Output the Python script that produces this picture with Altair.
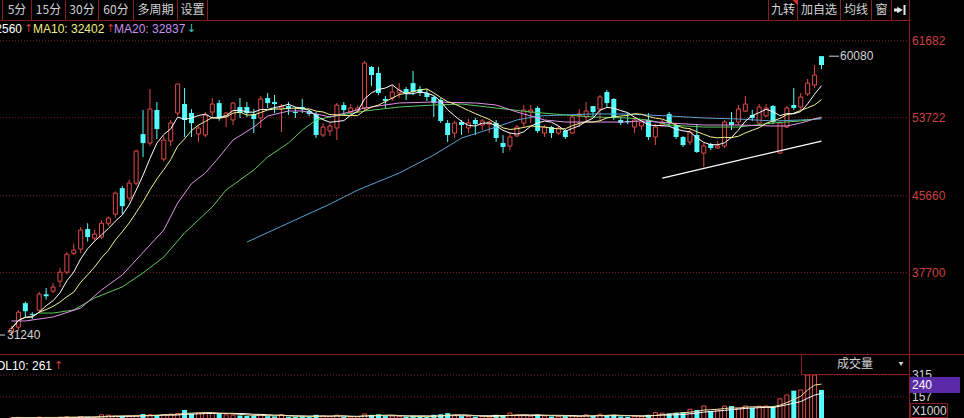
import altair as alt
import pandas as pd

# ---------------- daily candles (oldest first) ----------------
opens = [31500, 32050, 34530, 33400, 33800, 35450, 35780, 36800, 37740, 39700,
         40120, 42200, 41260, 41370, 42800, 43740, 46430, 45400, 46950, 52020,
         51090, 54510, 49440, 51300, 54200, 55130, 54200, 52040, 51930, 54300,
         55230, 53800, 53480, 54820, 54820, 54100, 53690, 55750, 55340, 54720,
         54920, 54300, 54820, 54400, 54100, 51930, 52340, 52650, 55030, 54300,
         54400, 54720, 58960, 58340, 55650, 55750, 56270, 56680, 57300, 56680,
         56270, 55860, 55550, 53170, 52130, 53270, 52650, 53480, 52960, 53060,
         53170, 51100, 50790, 51830, 53170, 54300, 54720, 52130, 52750, 52130,
         52340, 52130, 53900, 53800, 54920, 54610, 56370, 55650, 53480, 53380,
         52750, 52860, 53480, 51720, 52960, 54100, 52960, 51720, 51200, 51930,
         50060, 51000, 50580, 50790, 53270, 53270, 54400, 54000, 53170, 53900,
         54920, 50060, 52750, 55030, 54820, 56170, 57100, 60080]
highs = [32200, 33810, 34700, 33600, 35700, 36100, 36600, 38200, 39800, 40700,
         42400, 42800, 42100, 43100, 43500, 46100, 46640, 47300, 50400, 54510,
         56680, 55340, 51800, 53470, 57200, 56790, 54600, 52960, 54300, 55750,
         55550, 54300, 55340, 55750, 55340, 54610, 55960, 56270, 56060, 55130,
         55340, 54820, 55650, 54500, 54300, 53170, 53170, 55240, 55340, 55130,
         55000, 59580, 59060, 58960, 55960, 57100, 57300, 56890, 58550, 56990,
         56680, 55960, 55750, 53480, 53380, 53480, 53580, 53690, 53580, 53380,
         53480, 51920, 52130, 52960, 55030, 55030, 54920, 52960, 52860, 52860,
         52540, 54000, 54610, 55340, 54920, 56060, 56580, 55750, 53790, 54200,
         53690, 53270, 54200, 53060, 53480, 54300, 53060, 51820, 52650, 53060,
         51100, 51100, 51300, 53480, 54300, 55030, 55960, 54510, 55130, 55130,
         55030, 53380, 54920, 56790, 56270, 57720, 59170, 60080]
lows = [31240, 31740, 33100, 32900, 33600, 34900, 35570, 36200, 37500, 39500,
        39700, 40900, 41000, 41200, 42500, 43400, 43740, 45100, 46700, 49640,
        50780, 51510, 49200, 50780, 53900, 51720, 51720, 51200, 51700, 53790,
        53400, 52750, 52960, 53700, 53790, 52130, 52650, 54720, 54200, 52230,
        54000, 53690, 54200, 53900, 51620, 51720, 51820, 51400, 54000, 54000,
        54200, 54400, 56990, 56060, 54720, 55440, 55750, 55550, 56060, 55960,
        55440, 53790, 53170, 51200, 51620, 51930, 52130, 51930, 52440, 52130,
        51200, 50060, 50370, 51720, 52650, 53170, 52130, 51720, 51620, 51930,
        51510, 52030, 52750, 53170, 53790, 53480, 54820, 53480, 52960, 53060,
        52130, 52440, 51410, 50890, 52750, 52860, 51510, 50680, 50890, 50060,
        48610, 50370, 50480, 50580, 52440, 52960, 54300, 53380, 52960, 53790,
        53060, 49960, 52650, 54510, 54510, 55960, 56790, 58750]
closes = [31900, 33600, 33700, 33300, 35470, 35250, 36200, 37740, 39600, 40020,
          42090, 41370, 41680, 42800, 43330, 45910, 44570, 46950, 50270, 51090,
          54610, 52540, 51400, 53170, 57200, 53480, 53160, 52650, 53990, 55130,
          53700, 54200, 55230, 54200, 54200, 53580, 55650, 55230, 55130, 54920,
          54610, 54200, 54600, 54100, 51930, 52750, 52860, 55030, 54510, 54720,
          54720, 59370, 58130, 56270, 55440, 56370, 56580, 56270, 56370, 56270,
          55860, 55230, 53380, 51930, 53170, 52960, 53170, 53060, 53380, 53270,
          51620, 50690, 51720, 52750, 54510, 54510, 52340, 52750, 52130, 52650,
          51720, 53790, 54100, 54410, 54300, 55860, 55230, 53690, 53170, 53270,
          53480, 53270, 51720, 52750, 53270, 53170, 51720, 50890, 52230, 50170,
          50790, 50580, 50790, 53270, 52960, 54610, 55130, 53690, 54820, 54720,
          53270, 53170, 54720, 54720, 55860, 57300, 58130, 59170]
# traded volume, x1000
volumes = [8, 12, 10, 9, 14, 11, 10, 13, 16, 12,
           18, 14, 12, 30, 28, 22, 20, 18, 25, 36,
           30, 28, 32, 35, 40, 65, 38, 42, 45, 40,
           42, 30, 28, 25, 22, 24, 30, 20, 18, 32,
           16, 15, 18, 14, 30, 22, 18, 28, 15, 14,
           16, 36, 30, 34, 20, 22, 18, 16, 20, 15,
           14, 30, 34, 42, 28, 20, 18, 16, 18, 14,
           30, 25, 43, 30, 28, 20, 32, 22, 18, 16,
           20, 24, 18, 30, 20, 34, 28, 30, 18, 16,
           18, 16, 30, 47, 42, 40, 45, 48, 70, 65,
           93, 57, 65, 93, 93, 79, 93, 79, 92, 93,
           86, 144, 172, 203, 208, 315, 315, 208]

# longer moving averages (session index, value)
ma20_idx = [0, 2, 6, 10, 13, 16, 18, 22, 24, 26, 28, 30, 32, 35, 37, 40, 42, 44, 46,
            51, 56, 61, 67, 70, 73, 77, 80, 84, 89, 91, 95, 100, 105, 110, 112, 114, 117]
ma20_val = [32690, 32690, 33100, 34030, 35900, 37450, 39000, 42100, 44890, 46900, 48000,
            49650, 51410, 52750, 53890, 54410, 54410, 54100, 53790, 54720, 55240, 55340,
            55240, 55030, 54310, 53480, 53270, 53270, 53270, 53400, 53170, 52960, 52960,
            52860, 52860, 53170, 53790]
ma30_idx = [4, 6, 9, 12, 16, 19, 22, 25, 29, 31, 35, 37, 40, 42, 44, 46, 51, 56, 61, 65,
            70, 75, 80, 84, 89, 92, 95, 100, 105, 110, 114, 117]
ma30_val = [33510, 33510, 33830, 35070, 36210, 37660, 39310, 41800, 44490, 46240, 48310,
            49650, 51100, 52440, 53480, 53790, 54410, 54820, 55030, 55130, 54720, 54310,
            54000, 53790, 53690, 53480, 52960, 52750, 52750, 53170, 53380, 53690]
ma60_idx = [34, 46, 50, 56, 61, 65, 70, 73, 76, 80, 84, 89, 95, 100, 105, 110, 114, 117]
ma60_val = [40850, 44780, 46230, 47990, 49850, 51610, 52750, 53480, 53890, 54000, 54100,
            54100, 53890, 53690, 53580, 53380, 53480, 53590]
# hand-drawn support line
trend_idx = [94, 117]
trend_val = [47470, 51300]

price_ticks = [61682, 53722, 45660, 37700]
vol_ticks = [315, 240, 157]
vol_grid = [315, 157]
period_tabs = ["5分", "15分", "30分", "60分", "多周期", "设置"]
tool_tabs = ["九转", "加自选", "均线", "窗"]

# ---------------- styling ----------------
LATIN = "Liberation Sans"
CJK = "Noto Sans CJK SC"
RED = "#e24a4a"
CYAN = "#54fcfc"
FRAME = "#8a1d1d"
GRID = "#7a2222"
AXIS_TXT = "#cc4040"
GREY_TXT = "#d4d4d4"
PANEL_RIGHT = 909.5

n = len(closes)
df = pd.DataFrame({"i": range(n), "open": opens, "high": highs, "low": lows,
                   "close": closes, "volume": volumes})
df["top"] = df[["open", "close"]].max(axis=1)
df["bot"] = df[["open", "close"]].min(axis=1)
rise = df[df["close"] >= df["open"]]
fall = df[df["close"] < df["open"]]

X_SCALE = alt.Scale(domain=[0, n - 1], range=[6.5, 826.5], nice=False, zero=False)
P_SCALE = alt.Scale(domain=[31240, 61682], range=[335, 40.7], nice=False, zero=False)
V_SCALE = alt.Scale(domain=[0, 315], range=[419, 375], nice=False)
X = alt.X("i:Q", scale=X_SCALE, axis=None)


def py(f):
    return alt.Y(f"{f}:Q", scale=P_SCALE, axis=None)


def vy(f):
    return alt.Y(f"{f}:Q", scale=V_SCALE, axis=None)


ONE = pd.DataFrame({"k": [0]})


def hline(y, x1, x2, color=FRAME, dash=None, width=1):
    kw = dict(color=color, strokeWidth=width)
    if dash:
        kw["strokeDash"] = dash
    return alt.Chart(ONE).mark_rule(**kw).encode(
        x=alt.value(x1), x2=alt.value(x2), y=alt.value(y))


def vline(x, y1, y2, color=FRAME, width=1):
    return alt.Chart(ONE).mark_rule(color=color, strokeWidth=width).encode(
        x=alt.value(x), y=alt.value(y1), y2=alt.value(y2))


def label(txt, x, y, color, size=12, font=LATIN, align="left", weight="normal"):
    return alt.Chart(ONE).mark_text(
        text=txt, align=align, baseline="middle", font=font, fontSize=size,
        color=color, fontWeight=weight).encode(x=alt.value(x), y=alt.value(y))


layers = []

# ---- price grid & axis labels ----
ticks_df = pd.DataFrame({"p": price_ticks})
layers.append(alt.Chart(ticks_df).mark_rule(color=GRID, strokeDash=[1, 2]).encode(
    x=alt.value(0), x2=alt.value(PANEL_RIGHT), y=py("p")))
layers.append(alt.Chart(ticks_df).mark_text(
    align="left", baseline="middle", font=LATIN, fontSize=12, color=AXIS_TXT).encode(
    x=alt.value(912), y=py("p"), text=alt.Text("p:N")))

# ---- candles ----
layers.append(alt.Chart(rise).mark_rule(color=RED).encode(x=X, y=py("high"), y2="top"))
layers.append(alt.Chart(rise).mark_rule(color=RED).encode(x=X, y=py("bot"), y2="low"))
layers.append(alt.Chart(fall).mark_rule(color=CYAN).encode(x=X, y=py("high"), y2="low"))
layers.append(alt.Chart(rise).mark_bar(fill="#000000", stroke=RED, strokeWidth=1, size=4).encode(
    x=X, y=py("open"), y2="close"))
layers.append(alt.Chart(fall).mark_bar(color=CYAN, size=5).encode(
    x=X, y=py("open"), y2="close"))

# ---- moving averages ----
layers.append(alt.Chart(pd.DataFrame({"i": ma60_idx, "v": ma60_val})).mark_line(
    color="#5aa2d2", strokeWidth=1).encode(x=X, y=py("v")))
layers.append(alt.Chart(pd.DataFrame({"i": ma30_idx, "v": ma30_val})).mark_line(
    color="#5cc85c", strokeWidth=1).encode(x=X, y=py("v")))
layers.append(alt.Chart(pd.DataFrame({"i": ma20_idx, "v": ma20_val})).mark_line(
    color="#e092e6", strokeWidth=1).encode(x=X, y=py("v")))
layers.append(alt.Chart(df).transform_window(
    ma10="mean(close)", frame=[-9, 0], sort=[alt.SortField("i")]).mark_line(
    color="#f4f28c", strokeWidth=1).encode(x=X, y=py("ma10")))
layers.append(alt.Chart(df).transform_window(
    ma5="mean(close)", frame=[-4, 0], sort=[alt.SortField("i")]).mark_line(
    color="#ffffff", strokeWidth=1).encode(x=X, y=py("ma5")))
layers.append(alt.Chart(pd.DataFrame({"i": trend_idx, "v": trend_val})).mark_line(
    color="#ffffff", strokeWidth=1.3).encode(x=X, y=py("v")))

# ---- extreme price markers ----
last = pd.DataFrame({"i": [n - 1], "p": [highs[-1]]})
layers.append(alt.Chart(last).mark_rule(color=GREY_TXT).encode(
    x=alt.value(829), x2=alt.value(839), y=py("p")))
layers.append(alt.Chart(last).mark_text(
    align="left", baseline="middle", font=LATIN, fontSize=12, color=GREY_TXT).encode(
    x=alt.value(840), y=py("p"), text=alt.Text("p:N")))
low = pd.DataFrame({"p": [min(lows)]})
layers.append(alt.Chart(low).mark_rule(color=GREY_TXT).encode(
    x=alt.value(0), x2=alt.value(5), y=py("p")))
layers.append(alt.Chart(low).mark_text(
    align="left", baseline="middle", font=LATIN, fontSize=12, color=GREY_TXT).encode(
    x=alt.value(7), y=py("p"), text=alt.Text("p:N")))

# ---- volume panel ----
layers.append(alt.Chart(pd.DataFrame({"v": vol_grid})).mark_rule(
    color=GRID, strokeDash=[1, 2]).encode(x=alt.value(0), x2=alt.value(PANEL_RIGHT), y=vy("v")))
layers.append(alt.Chart(rise).mark_bar(fill="#000000", stroke=RED, strokeWidth=1, size=4).encode(
    x=X, y=vy("volume")))
layers.append(alt.Chart(fall).mark_bar(color=CYAN, size=5).encode(x=X, y=vy("volume")))
layers.append(alt.Chart(df).transform_window(
    v10="mean(volume)", frame=[-9, 0], sort=[alt.SortField("i")]).mark_line(
    color="#ffffff", strokeWidth=1).encode(x=X, y=vy("v10")))
layers.append(alt.Chart(df).transform_window(
    v5="mean(volume)", frame=[-4, 0], sort=[alt.SortField("i")]).mark_line(
    color="#f0e0a0", strokeWidth=1).encode(x=X, y=vy("v5")))

vt = pd.DataFrame({"v": vol_ticks})
layers.append(alt.Chart(vt).mark_text(
    align="left", baseline="middle", font=LATIN, fontSize=12, color=GREY_TXT).encode(
    x=alt.value(912), y=vy("v"), text=alt.Text("v:N")))
cur = pd.DataFrame({"v": [vol_ticks[1]]})
layers.append(alt.Chart(ONE).mark_rect(color="#5a2aa8").encode(
    x=alt.value(910), x2=alt.value(960), y=alt.value(377), y2=alt.value(393)))
layers.append(alt.Chart(cur).mark_text(
    align="left", baseline="middle", font=LATIN, fontSize=12, color="#ffffff").encode(
    x=alt.value(912), y=vy("v"), text=alt.Text("v:N")))
layers.append(alt.Chart(ONE).mark_rect(fill="#000000", stroke=FRAME, strokeWidth=1).encode(
    x=alt.value(910.5), x2=alt.value(947.5), y=alt.value(403.5), y2=alt.value(417.5)))
layers.append(label("X1000", 912, 410.5, GREY_TXT))

# ---- frame lines ----
layers.append(hline(20.5, 0, PANEL_RIGHT))
layers.append(vline(PANEL_RIGHT, 0, 418))
layers.append(hline(354.5, 0, 964))
layers.append(vline(801.5, 354.5, 374.5))
layers.append(hline(374.5, 801.5, PANEL_RIGHT))
layers.append(label("成交量", 855, 364, GREY_TXT, font=CJK, align="center"))
layers.append(alt.Chart(ONE).mark_point(
    shape="triangle-down", filled=True, size=22, color=GREY_TXT, opacity=1).encode(
    x=alt.value(901), y=alt.value(364)))

# ---- toolbar ----
left_edges = [2.5, 31.5, 65.5, 98.5, 133.5, 177.5, 207.5]
for xe in left_edges:
    layers.append(vline(xe, 0, 20.5))
for k, tab in enumerate(period_tabs):
    cx = (left_edges[k] + left_edges[k + 1]) / 2
    layers.append(label(tab, cx, 10, GREY_TXT, font=CJK, align="center"))

right_edges = [768.5, 797.5, 840.5, 871.5, 891.5, PANEL_RIGHT]
for xe in right_edges:
    layers.append(vline(xe, 0, 20.5))
for k, tab in enumerate(tool_tabs):
    cx = (right_edges[k] + right_edges[k + 1]) / 2
    layers.append(label(tab, cx, 10, GREY_TXT, font=CJK, align="center"))
layers.append(alt.Chart(ONE).mark_point(
    shape="M-1,-1L1,-1L1,1Z", filled=True, size=30, color="#e03030", opacity=1).encode(
    x=alt.value(795), y=alt.value(2.5)))
# "jump to end" icon
layers.append(alt.Chart(ONE).mark_rule(color="#e8e8e8", strokeWidth=3).encode(
    x=alt.value(894), x2=alt.value(898), y=alt.value(10)))
layers.append(alt.Chart(ONE).mark_point(
    shape="triangle-right", filled=True, size=40, color="#e8e8e8", opacity=1).encode(
    x=alt.value(900), y=alt.value(10)))
layers.append(vline(904.5, 5, 15, color="#e8e8e8", width=2))

# ---- indicator legends ----
layers.append(label("MA5: 32560", 22, 29, "#ffffff", align="right"))
layers.append(label("↑", 24, 29, "#d03a3a", font="DejaVu Sans", size=11))
layers.append(label("MA10: 32402", 33, 29, "#f0ee80"))
layers.append(label("↑", 106, 29, "#d03a3a", font="DejaVu Sans", size=11))
layers.append(label("MA20: 32837", 114, 29, "#c890ee"))
layers.append(label("↓", 187, 29, "#40c8c8", font="DejaVu Sans", size=11))
layers.append(label("VOL10: 261", 52, 366, "#ffffff", align="right"))
layers.append(label("↑", 54, 366, "#d03a3a", font="DejaVu Sans", size=11))

chart = alt.layer(*layers).resolve_scale(y="independent").properties(
    width=964, height=418, padding=0,
    autosize=alt.AutoSizeParams(type="none"),
).configure(background="#000000").configure_view(strokeWidth=0)

chart.save("out.html", embed_options={"renderer": "svg", "actions": False})
